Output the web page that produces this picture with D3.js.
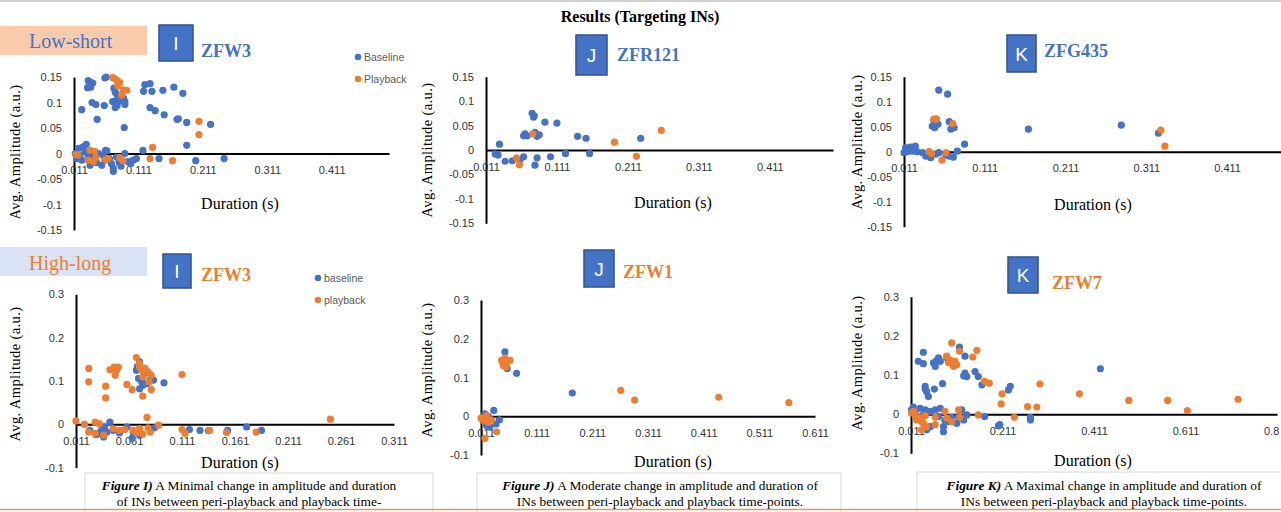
<!DOCTYPE html>
<html>
<head>
<meta charset="utf-8">
<script src="https://cdn.jsdelivr.net/npm/d3@7"></script>
<style>
  body { margin: 0; background: #fff; }
  svg { display: block; }
  .tick text { font-family: "Liberation Sans", Arial, sans-serif; font-size: 11px; fill: #333; }
  .serif { font-family: "Liberation Serif", "Times New Roman", serif; }
  .sans { font-family: "Liberation Sans", Arial, sans-serif; }
</style>
</head>
<body>
<div id="vis"></div>
<script>
// series colours
var BLUE = '#4472c4';
var ORANGE = '#ed7d31';

// tick values
var ampTicksLow = [-0.15, -0.1, -0.05, 0, 0.05, 0.1, 0.15];
var ampTicksHigh = [-0.1, 0, 0.1, 0.2, 0.3];
var durTicksTop = [0.011, 0.111, 0.211, 0.311, 0.411];
var durTicksI = [0.011, 0.061, 0.111, 0.161, 0.211, 0.261, 0.311];
var durTicksJ = [0.011, 0.111, 0.211, 0.311, 0.411, 0.511, 0.611];
var durTicksK = [0.011, 0.211, 0.411, 0.611, 0.811];

// Low-short, I (ZFW3)  [duration, amplitude]
var lowI_baseline = [
  [0.013,0.000],[0.018,0.010],[0.025,0.013],[0.028,0.003],[0.033,-0.005],[0.041,-0.008],[0.049,0.000],
  [0.056,-0.003],[0.054,-0.023],[0.062,0.005],[0.069,-0.020],[0.072,-0.029],[0.077,-0.007],[0.090,0.000],
  [0.095,-0.016],[0.103,-0.013],[0.108,-0.010],[0.023,-0.013],[0.015,-0.010],[0.036,-0.023],[0.046,-0.018],
  [0.059,-0.013],[0.081,-0.018],[0.099,-0.020],[0.030,0.018],[0.060,0.006],[0.072,-0.035],[0.084,-0.025],
  [0.020,-0.004],[0.066,-0.010],
  [0.036,0.140],[0.040,0.138],[0.037,0.130],[0.033,0.143],[0.032,0.129],[0.059,0.148],[0.061,0.150],
  [0.073,0.128],[0.075,0.120],[0.078,0.115],[0.088,0.108],[0.090,0.102],[0.077,0.104],[0.085,0.107],
  [0.121,0.135],[0.129,0.137],[0.119,0.122],[0.132,0.122],[0.149,0.124],[0.166,0.130],[0.180,0.118],
  [0.023,0.086],[0.039,0.100],[0.045,0.096],[0.058,0.094],[0.071,0.102],[0.078,0.094],[0.082,0.104],
  [0.090,0.096],[0.075,0.090],[0.129,0.090],[0.137,0.084],[0.151,0.076],[0.171,0.067],[0.173,0.068],
  [0.186,0.061],[0.223,0.057],[0.047,0.067],[0.089,0.051],[0.186,0.016],[0.118,0.006],[0.143,-0.010],
  [0.200,-0.014],[0.244,-0.010]
];
var lowI_playback = [
  [0.071,0.149],[0.078,0.143],[0.079,0.133],[0.082,0.139],[0.087,0.125],[0.093,0.124],[0.085,0.114],
  [0.075,0.146],[0.205,0.063],[0.205,0.037],[0.133,0.012],[0.129,-0.010],[0.164,-0.014],[0.014,-0.002],
  [0.017,-0.003],[0.036,0.006],[0.043,0.004],[0.033,-0.013],[0.041,-0.016],[0.064,-0.010],[0.082,-0.008],
  [0.087,-0.014],[0.060,-0.012],[0.045,-0.008]
];

// Low-short, J (ZFR121)
var lowJ_baseline = [
  [0.076,0.075],[0.079,0.070],[0.078,0.067],[0.094,0.057],[0.111,0.055],[0.066,0.033],[0.069,0.029],
  [0.064,0.029],[0.080,0.036],[0.086,0.031],[0.083,0.028],[0.140,0.028],[0.152,0.024],[0.030,0.012],
  [0.229,0.024],[0.024,-0.008],[0.028,-0.010],[0.038,-0.023],[0.048,-0.022],[0.064,-0.014],[0.080,-0.031],
  [0.083,-0.016],[0.102,-0.014],[0.123,-0.007],[0.157,-0.007],[0.059,-0.020]
];
var lowJ_playback = [
  [0.077,0.033],[0.054,-0.016],[0.058,-0.030],[0.192,0.016],[0.223,-0.013],[0.258,0.040]
];

// Low-short, K (ZFG435)
var lowK_baseline = [
  [0.054,0.123],[0.065,0.115],[0.048,0.063],[0.051,0.065],[0.053,0.055],[0.046,0.051],[0.049,0.048],
  [0.067,0.060],[0.071,0.055],[0.069,0.045],[0.073,0.048],[0.086,0.015],[0.165,0.045],[0.280,0.053],
  [0.326,0.037],[0.077,0.001],[0.072,-0.011],
  [0.013,0.008],[0.019,0.009],[0.025,0.011],[0.011,-0.002],[0.015,0.000],[0.021,0.001],[0.027,0.000],
  [0.034,-0.002],[0.040,-0.004],[0.050,-0.005],[0.054,-0.002],[0.063,-0.007],[0.067,-0.009],
  [0.038,-0.009],[0.044,-0.012]
];
var lowK_playback = [
  [0.048,0.065],[0.051,0.065],[0.071,0.056],[0.042,0.000],[0.045,-0.004],[0.063,-0.002],[0.058,-0.017],
  [0.329,0.043],[0.334,0.011]
];

// High-long, I (ZFW3)
var highI_baseline = [
  [0.068,0.125],[0.071,0.144],[0.070,0.106],[0.073,0.098],[0.078,0.094],[0.081,0.103],[0.084,0.102],
  [0.074,0.090],[0.071,0.082],[0.094,0.096],[0.069,0.133],[0.076,0.118],
  [0.043,0.005],[0.038,-0.006],[0.035,-0.014],[0.040,-0.018],[0.032,-0.021],[0.037,-0.029],[0.046,-0.014],
  [0.024,-0.014],[0.085,-0.008],[0.118,-0.012],[0.128,-0.014],[0.136,-0.015],[0.154,-0.014],[0.172,-0.006],
  [0.186,-0.014],[0.059,-0.006],[0.065,-0.018],[0.064,-0.032],[0.030,-0.024],[0.052,-0.020],[0.071,-0.025]
];
var highI_playback = [
  [0.023,0.129],[0.023,0.098],[0.043,0.126],[0.047,0.132],[0.051,0.132],[0.049,0.123],[0.048,0.113],
  [0.039,0.088],[0.039,0.061],[0.059,0.092],[0.064,0.080],[0.068,0.154],[0.071,0.140],[0.073,0.125],
  [0.076,0.129],[0.079,0.121],[0.082,0.113],[0.074,0.109],[0.080,0.098],[0.071,0.132],[0.082,0.080],
  [0.074,0.065],[0.111,0.115],[0.078,0.016],
  [0.011,0.008],[0.019,0.000],[0.029,0.005],[0.023,-0.018],[0.029,-0.021],[0.037,-0.025],[0.046,-0.010],
  [0.052,-0.014],[0.057,-0.012],[0.065,-0.014],[0.071,-0.010],[0.074,-0.022],[0.079,-0.008],[0.081,-0.018],
  [0.089,-0.002],[0.111,-0.012],[0.114,-0.021],[0.137,-0.014],[0.153,-0.019],[0.181,-0.018],[0.251,0.012],
  [0.033,0.002],[0.068,-0.020]
];

// High-long, J (ZFW1)
var highJ_baseline = [
  [0.054,0.166],[0.058,0.123],[0.075,0.111],[0.056,0.142],[0.051,0.133],[0.175,0.060],[0.034,0.015],
  [0.018,0.006],[0.024,0.000],[0.027,-0.028],[0.021,-0.024],[0.044,-0.009],[0.038,-0.020]
];
var highJ_playback = [
  [0.048,0.144],[0.054,0.150],[0.058,0.144],[0.063,0.144],[0.051,0.131],[0.056,0.138],[0.056,0.127],
  [0.011,-0.005],[0.015,-0.011],[0.021,0.002],[0.030,-0.009],[0.024,-0.016],[0.039,-0.040],[0.018,-0.057],
  [0.262,0.067],[0.287,0.042],[0.438,0.049],[0.564,0.035]
];

// High-long, K (ZFW7)
var highK_baseline = [
  [0.038,0.158],[0.027,0.135],[0.038,0.129],[0.060,0.131],[0.067,0.137],[0.071,0.144],[0.064,0.122],
  [0.075,0.135],[0.117,0.171],[0.129,0.148],[0.089,0.144],[0.129,0.105],[0.133,0.096],[0.126,0.098],
  [0.151,0.109],[0.158,0.096],[0.166,0.075],[0.042,0.071],[0.045,0.058],[0.049,0.045],[0.042,0.064],
  [0.062,0.064],[0.080,0.078],[0.228,0.071],[0.224,0.062],[0.272,-0.008],[0.272,-0.015],[0.172,-0.006],
  [0.202,-0.030],[0.205,-0.027],[0.425,0.116],
  [0.012,0.011],[0.020,0.003],[0.031,0.015],[0.042,0.011],[0.053,0.007],[0.064,0.011],[0.075,0.015],
  [0.027,-0.006],[0.038,-0.002],[0.071,-0.006],[0.085,-0.015],[0.093,-0.019],[0.082,-0.032],[0.100,-0.008],
  [0.115,-0.006],[0.126,-0.015],[0.133,-0.002],[0.111,-0.023],[0.122,0.011],[0.016,0.018],[0.082,-0.045],
  [0.053,-0.032],[0.045,-0.040]
];
var highK_playback = [
  [0.100,0.182],[0.089,0.148],[0.096,0.139],[0.100,0.131],[0.107,0.135],[0.111,0.126],[0.104,0.122],
  [0.093,0.131],[0.155,0.163],[0.146,0.146],[0.117,0.161],[0.172,0.084],[0.182,0.079],[0.210,0.052],
  [0.208,0.026],[0.293,0.077],[0.266,0.019],[0.286,0.018],[0.237,-0.008],[0.158,-0.002],[0.115,0.011],
  [0.118,-0.008],[0.100,-0.019],[0.085,0.007],[0.089,-0.010],[0.379,0.052],[0.487,0.035],[0.572,0.035],
  [0.615,0.009],[0.726,0.038],
  [0.012,0.003],[0.020,-0.002],[0.027,-0.008],[0.023,-0.015],[0.034,-0.019],[0.038,-0.023],[0.031,-0.010],
  [0.042,-0.004],[0.016,0.007],[0.045,-0.032],[0.064,-0.027],[0.064,-0.008],[0.034,-0.040],[0.042,-0.032]
];

var W = 1281, H = 512;

var svg = d3.select('#vis').append('svg')
  .attr('width', W)
  .attr('height', H);

svg.append('rect').attr('width', W).attr('height', H).attr('fill', '#fff');

// top rule
svg.append('line').attr('x1', 0).attr('x2', W).attr('y1', 1).attr('y2', 1)
  .attr('stroke', '#d0d0d0').attr('stroke-width', 2);

svg.append('text')
  .attr('class', 'serif')
  .attr('x', 640).attr('y', 22)
  .attr('text-anchor', 'middle')
  .attr('font-size', 16).attr('font-weight', 'bold')
  .text('Results (Targeting INs)');

// row labels
function rowLabel(y, h, fill, color, label, baseline) {
  svg.append('rect').attr('x', 0).attr('y', y).attr('width', 147).attr('height', h).attr('fill', fill);
  svg.append('text').attr('class', 'serif')
    .attr('x', 29).attr('y', baseline)
    .attr('font-size', 20).attr('fill', color)
    .text(label);
}
rowLabel(26, 29, '#f8cbad', BLUE, 'Low-short', 48);
rowLabel(247, 29, '#dae3f3', ORANGE, 'High-long', 270);

// panels
var panels = [
  { letter: 'I', name: 'ZFW3', nameColor: BLUE, box: [159, 25, 34, 36], nameAt: [201, 57],
    base: lowI_baseline, play: lowI_playback,
    x: [74, 389], xDom: [0.011, 0.5], y: [77, 230], yDom: [0.15, -0.15],
    xTicks: durTicksTop, yTicks: ampTicksLow, yTitle: [15, 152], xTitle: [240, 209],
    legend: { x: 358, y: 57, labels: ['Baseline', 'Playback'] } },
  { letter: 'J', name: 'ZFR121', nameColor: BLUE, box: [576, 35, 31, 40], nameAt: [617, 61],
    base: lowJ_baseline, play: lowJ_playback,
    x: [486, 833], xDom: [0.011, 0.5], y: [76.7, 223.3], yDom: [0.15, -0.15],
    xTicks: durTicksTop, yTicks: ampTicksLow, yTitle: [427, 150], xTitle: [673, 208] },
  { letter: 'K', name: 'ZFG435', nameColor: BLUE, box: [1007, 35, 29, 37], nameAt: [1044, 57],
    base: lowK_baseline, play: lowK_playback,
    x: [904, 1299], xDom: [0.011, 0.5], y: [76.7, 226.7], yDom: [0.15, -0.15],
    xTicks: durTicksTop, yTicks: ampTicksLow, yTitle: [857, 142], xTitle: [1093, 210] },
  { letter: 'I', name: 'ZFW3', nameColor: ORANGE, box: [163, 254, 28, 34], nameAt: [201, 281],
    base: highI_baseline, play: highI_playback,
    x: [76, 394], xDom: [0.011, 0.311], y: [294.3, 467.7], yDom: [0.3, -0.1],
    xTicks: durTicksI, yTicks: ampTicksHigh, yTitle: [15, 374], xTitle: [240, 468],
    legend: { x: 318, y: 278, labels: ['baseline', 'playback'] } },
  { letter: 'J', name: 'ZFW1', nameColor: ORANGE, box: [584, 250, 30, 37], nameAt: [623, 278],
    base: highJ_baseline, play: highJ_playback,
    x: [481, 815], xDom: [0.011, 0.611], y: [300, 455], yDom: [0.3, -0.1],
    xTicks: durTicksJ, yTicks: ampTicksHigh, yTitle: [427, 370], xTitle: [673, 467] },
  { letter: 'K', name: 'ZFW7', nameColor: ORANGE, box: [1008, 257, 30, 36], nameAt: [1052, 289],
    base: highK_baseline, play: highK_playback,
    x: [911, 1277], xDom: [0.011, 0.811], y: [296.7, 453.3], yDom: [0.3, -0.1],
    xTicks: durTicksK, yTicks: ampTicksHigh, yTitle: [857, 363], xTitle: [1093, 466] }
];

function fmtAmp(d) { return String(+d.toFixed(2)); }
function fmtDur(d) { return d.toFixed(3); }

panels.forEach(function (p) {
  var g = svg.append('g');

  var x = d3.scaleLinear().domain(p.xDom).range(p.x);
  var y = d3.scaleLinear().domain(p.yDom).range(p.y);

  // letter box and fish name
  g.append('rect')
    .attr('x', p.box[0]).attr('y', p.box[1])
    .attr('width', p.box[2]).attr('height', p.box[3])
    .attr('fill', BLUE).attr('stroke', '#2f528f').attr('stroke-width', 1.5);
  g.append('text').attr('class', 'sans')
    .attr('x', p.box[0] + p.box[2] / 2).attr('y', p.box[1] + p.box[3] / 2 + 7)
    .attr('text-anchor', 'middle').attr('font-size', 19).attr('fill', '#fff')
    .text(p.letter);
  g.append('text').attr('class', 'serif')
    .attr('x', p.nameAt[0]).attr('y', p.nameAt[1])
    .attr('font-size', 18).attr('font-weight', 'bold').attr('fill', p.nameColor)
    .text(p.name);

  // y axis
  var yAxis = d3.axisLeft(y).tickValues(p.yTicks).tickFormat(fmtAmp)
    .tickSize(0).tickPadding(12);
  var ya = g.append('g').attr('transform', 'translate(' + p.x[0] + ',0)').call(yAxis);
  ya.select('.domain').attr('stroke', '#000').attr('stroke-width', 2);

  // x axis through zero
  var xAxis = d3.axisBottom(x).tickValues(p.xTicks).tickFormat(fmtDur)
    .tickSize(0).tickPadding(13);
  var xa = g.append('g').attr('transform', 'translate(0,' + y(0) + ')').call(xAxis);
  xa.select('.domain').attr('stroke', '#000').attr('stroke-width', 2);
  g.selectAll('.tick text').attr('font-family', null).attr('font-size', null);

  // a label sitting on the right page edge only shows its first characters
  xa.selectAll('.tick text').each(function (d) {
    if (x(d) + 14 > W) {
      d3.select(this).attr('text-anchor', 'start').attr('dx', -13.5).text(fmtDur(d).slice(0, 3));
    }
  });

  // axis titles
  g.append('text').attr('class', 'serif')
    .attr('transform', 'translate(' + p.yTitle[0] + ',' + p.yTitle[1] + ') rotate(-90)')
    .attr('text-anchor', 'middle').attr('dy', '0.35em')
    .attr('font-size', 14.5).attr('letter-spacing', 0.4).attr('fill', '#000')
    .text('Avg. Amplitude (a.u.)');
  g.append('text').attr('class', 'serif')
    .attr('x', p.xTitle[0]).attr('y', p.xTitle[1])
    .attr('text-anchor', 'middle').attr('font-size', 16).attr('fill', '#000')
    .text('Duration (s)');

  // points: baseline first, playback on top
  g.append('g').selectAll('circle').data(p.base).join('circle')
    .attr('cx', function (d) { return x(d[0]); })
    .attr('cy', function (d) { return y(d[1]); })
    .attr('r', 3.6).attr('fill', BLUE);
  g.append('g').selectAll('circle').data(p.play).join('circle')
    .attr('cx', function (d) { return x(d[0]); })
    .attr('cy', function (d) { return y(d[1]); })
    .attr('r', 3.6).attr('fill', ORANGE);

  if (p.legend) {
    [BLUE, ORANGE].forEach(function (c, i) {
      g.append('circle').attr('cx', p.legend.x).attr('cy', p.legend.y + i * 22)
        .attr('r', 3.3).attr('fill', c);
      g.append('text').attr('class', 'sans')
        .attr('x', p.legend.x + 6).attr('y', p.legend.y + i * 22 + 3.5)
        .attr('font-size', 10.5).attr('fill', '#595959')
        .text(p.legend.labels[i]);
    });
  }
});

// captions
var captions = [
  { box: [85, 473, 348], cx: 249, lead: 'Figure I)', l1: ' A Minimal change in amplitude and duration',
    l2: 'of INs between peri-playback and playback time-' },
  { box: [477, 473, 364], cx: 660, lead: 'Figure J)', l1: ' A Moderate change in amplitude and duration of',
    l2: 'INs between peri-playback and playback time-points.' },
  { box: [917, 472, 370], cx: 1104, lead: 'Figure K)', l1: ' A Maximal change in amplitude and duration of',
    l2: 'INs between peri-playback and playback time-points.' }
];
captions.forEach(function (c) {
  svg.append('rect').attr('x', c.box[0]).attr('y', c.box[1])
    .attr('width', c.box[2]).attr('height', 60)
    .attr('fill', '#fff').attr('stroke', '#d9d9d9').attr('stroke-width', 1);
  var t = svg.append('text').attr('class', 'serif')
    .attr('x', c.cx).attr('y', 490).attr('text-anchor', 'middle').attr('font-size', 13.4);
  t.append('tspan').attr('font-weight', 'bold').attr('font-style', 'italic').text(c.lead);
  t.append('tspan').text(c.l1);
  svg.append('text').attr('class', 'serif')
    .attr('x', c.cx).attr('y', 506).attr('text-anchor', 'middle').attr('font-size', 13.4)
    .text(c.l2);
});

svg.append('line').attr('x1', 0).attr('x2', W).attr('y1', 509.5).attr('y2', 509.5)
  .attr('stroke', ORANGE).attr('stroke-width', 1.5).attr('opacity', 0.8);
</script>
</body>
</html>
